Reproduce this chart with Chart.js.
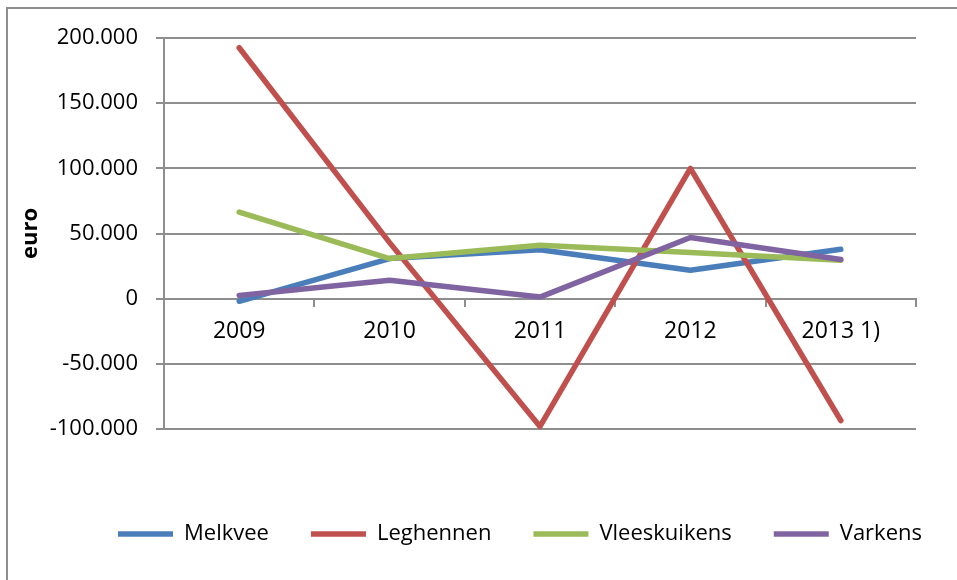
<!DOCTYPE html>
<html>
<head>
<meta charset="utf-8">
<script src="https://cdn.jsdelivr.net/npm/chart.js@4/dist/chart.umd.min.js"></script>
<style>
  html, body { margin: 0; padding: 0; background: #ffffff; }
  #wrap { width: 957px; height: 580px; position: relative; }
</style>
</head>
<body>
<div id="wrap"><canvas id="c" width="957" height="580"></canvas></div>
<script>
const categories = ['2009', '2010', '2011', '2012', '2013 1)'];
const melkvee      = [-2000, 30800, 37500, 21800, 37900];
const leghennen    = [192500, 43000, -98000, 100000, -93500];
const vleeskuikens = [66400, 30800, 41000, 35400, 29500];
const varkens      = [2500, 14100, 1200, 46900, 30000];
const seriesNames  = ['Melkvee', 'Leghennen', 'Vleeskuikens', 'Varkens'];
const seriesColors = ['#4a7ebb', '#c0504d', '#9bbb59', '#8064a2'];
const yTicks = [-100000, -50000, 0, 50000, 100000, 150000, 200000];
const yTitle = 'euro';

const FONT = '"Open Sans", "DejaVu Sans", sans-serif';
const GRID = '#8e8e8e';

const allSeries = [melkvee, leghennen, vleeskuikens, varkens];
const datasets = allSeries.map((vals, i) => ({
  label: seriesNames[i],
  data: vals,
  borderColor: seriesColors[i],
  backgroundColor: seriesColors[i],
  borderWidth: 5.5,
  borderCapStyle: 'round',
  borderJoinStyle: 'round',
  pointRadius: 0,
  pointHoverRadius: 0,
  tension: 0,
  fill: false,
  order: allSeries.length - i
}));

const frame = {
  id: 'frame',
  beforeDraw(chart) {
    const ctx = chart.ctx;
    ctx.save();
    ctx.fillStyle = '#ffffff';
    ctx.fillRect(0, 0, chart.width, chart.height);
    ctx.strokeStyle = '#8e8e8e';
    ctx.lineWidth = 2;
    ctx.strokeRect(7, 8, chart.width + 20, chart.height + 20);
    ctx.restore();
  }
};

const shiftLegend = {
  id: 'shiftLegend',
  afterLayout(chart) {
    const s = 58;
    chart.legend.left += s;
    chart.legend.right += s;
  }
};

new Chart(document.getElementById('c'), {
  type: 'line',
  data: { labels: categories, datasets },
  plugins: [frame, shiftLegend],
  options: {
    responsive: false,
    animation: false,
    events: [],
    layout: { padding: { left: 8, right: 41, top: 38, bottom: 25 } },
    plugins: {
      legend: {
        position: 'bottom',
        labels: {
          usePointStyle: true,
          pointStyle: 'line',
          pointStyleWidth: 55,
          padding: 42,
          color: '#000000',
          font: { family: FONT, size: 22 },
          sort: (a, b) => a.datasetIndex - b.datasetIndex
        }
      },
      tooltip: { enabled: false }
    },
    scales: {
      x: {
        type: 'category',
        position: { y: 0 },
        offset: true,
        grid: {
          display: true,
          drawOnChartArea: false,
          drawTicks: true,
          tickLength: 7,
          offset: true,
          color: GRID,
          lineWidth: 2
        },
        border: { display: true, color: GRID, width: 2 },
        ticks: {
          color: '#000000',
          font: { family: FONT, size: 23 },
          padding: 12,
          maxRotation: 0,
          autoSkip: false
        }
      },
      xSpace: {
        type: 'category',
        position: 'bottom',
        labels: categories,
        grid: { display: false },
        border: { display: false },
        ticks: { display: false },
        afterFit(scale) { scale.height = 52; }
      },
      y: {
        type: 'linear',
        min: -100000,
        max: 200000,
        afterBuildTicks(scale) { scale.ticks = yTicks.map(v => ({ value: v })); },
        afterFit(scale) { scale.width = 156; },
        grid: {
          color: GRID,
          lineWidth: 2,
          tickLength: 8,
          drawTicks: true
        },
        border: { display: true, color: GRID, width: 2 },
        ticks: {
          color: '#000000',
          font: { family: FONT, size: 22 },
          padding: 18,
          callback: (v) => {
            const neg = v < 0;
            const s = Math.abs(v).toString().replace(/\B(?=(\d{3})+(?!\d))/g, '.');
            return (neg ? '-' : '') + s;
          }
        },
        title: {
          display: true,
          text: yTitle,
          color: '#000000',
          font: { family: FONT, size: 22, weight: 'bold' },
          padding: { top: 10, bottom: 0 }
        }
      }
    }
  }
});
</script>
</body>
</html>
